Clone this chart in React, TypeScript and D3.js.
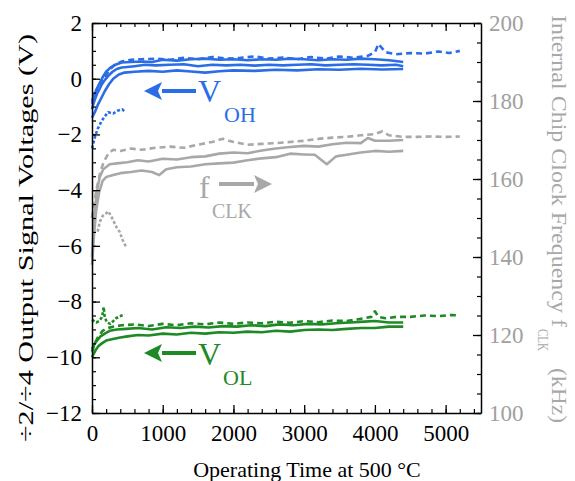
import React, { useRef, useEffect } from 'react';
import * as d3 from 'd3';

// V_OH traces (time in h, volts)
const vohA = [[0,-1.1],[20,-0.9],[40,-0.75],[70,-0.55],[100,-0.4],[140,-0.2],[180,-0.05],[230,0.1],[290,0.25],[350,0.35],[420,0.4],[500,0.42],[600,0.45],[750,0.5],[900,0.48],[1100,0.5],[1300,0.52],[1500,0.45],[1700,0.5],[1900,0.48],[2100,0.5],[2300,0.47],[2500,0.5],[2700,0.48],[2900,0.5],[3100,0.52],[3300,0.48],[3500,0.5],[3700,0.52],[3900,0.5],[4100,0.48],[4300,0.5],[4400,0.45]];
const vohB = [[0,-0.8],[30,-0.6],[60,-0.4],[100,-0.2],[150,0.05],[200,0.25],[260,0.4],[330,0.5],[420,0.58],[550,0.6],[700,0.62],[850,0.6],[1000,0.68],[1200,0.65],[1400,0.7],[1600,0.72],[1800,0.68],[2000,0.7],[2200,0.66],[2400,0.7],[2600,0.68],[2800,0.72],[3000,0.7],[3200,0.66],[3400,0.7],[3600,0.68],[3800,0.72],[4000,0.7],[4200,0.66],[4400,0.6]];
const vohC = [[0,-1.4],[40,-1.2],[80,-0.95],[130,-0.7],[180,-0.45],[240,-0.2],[300,0.0],[380,0.15],[460,0.22],[600,0.25],[800,0.28],[1000,0.25],[1200,0.3],[1400,0.26],[1600,0.22],[1800,0.27],[2000,0.3],[2300,0.28],[2600,0.32],[2900,0.3],[3200,0.34],[3500,0.32],[3800,0.36],[4100,0.33],[4400,0.35]];
const vohD = [[0,-0.9],[50,-0.6],[100,-0.3],[170,0.0],[240,0.3],[320,0.5],[420,0.62],[550,0.68],[700,0.7],[900,0.72],[1100,0.68],[1300,0.75],[1500,0.7],[1700,0.78],[1900,0.72],[2100,0.75],[2300,0.8],[2500,0.72],[2700,0.76],[2900,0.7],[3100,0.78],[3300,0.72],[3500,0.8],[3700,0.75],[3900,0.82],[4000,0.95],[4050,1.25],[4100,1.1],[4150,0.95],[4300,0.88],[4500,0.92],[4700,0.9],[4900,0.98],[5050,0.92],[5200,1.0]];
const vohE = [[0,-2.5],[40,-2.1],[80,-1.8],[130,-1.55],[180,-1.35],[230,-1.2],[300,-1.25],[360,-1.15],[430,-1.1],[470,-1.2]];

// f_CLK traces (time in h, kHz)
const fclkA = [[0,150],[60,157],[120,162],[170,164.5],[230,166.5],[300,167.5],[400,167.2],[550,167.8],[700,167.5],[900,168],[1100,168.3],[1300,168],[1500,168.8],[1700,169.5],[1850,170.3],[2000,169.5],[2200,168.8],[2400,169],[2600,169.2],[2800,169.5],[3000,169.8],[3200,170.3],[3400,170.6],[3600,170.8],[3800,171.2],[4000,171.5],[4100,172.2],[4200,171.2],[4400,170.8],[4600,170.8],[4800,170.9],[5000,170.8],[5200,170.9]];
const fclkB = [[0,140],[20,146],[40,152],[70,157],[110,160.5],[160,162.5],[250,163.8],[350,164],[500,164.3],[650,164.8],[800,164.5],[1000,165.2],[1200,165],[1400,165.6],[1600,165.8],[1800,166.5],[2000,166.8],[2200,166.6],[2400,167.3],[2600,167.8],[2800,168.2],[3000,168.5],[3200,168.3],[3400,168.9],[3600,169.3],[3800,169.2],[3900,170.5],[4000,169.8],[4200,169.8],[4400,170]];
const fclkC = [[0,138],[30,146],[60,152],[100,156.5],[150,159.5],[200,160.5],[300,161],[400,161.5],[550,161.8],[700,162.2],[850,161.8],[950,161],[1050,162.5],[1200,163],[1400,163.2],[1600,163.8],[1800,164],[2000,164.2],[2200,164.8],[2400,165.3],[2600,165.6],[2800,166.5],[3000,166.3],[3150,166.2],[3320,163.8],[3450,165.8],[3600,166.2],[3800,166.8],[4000,167.2],[4200,167],[4400,167.2]];
const fclkD = [[80,146.5],[110,149],[150,150.5],[190,151],[230,151.7],[270,150.5],[310,149],[350,147.5],[390,146.5],[430,144.5],[470,143],[490,142.5]];

// V_OL traces (time in h, volts)
const volA = [[0,-10.0],[20,-9.9],[50,-9.75],[90,-9.6],[140,-9.5],[200,-9.4],[280,-9.35],[380,-9.3],[500,-9.25],[650,-9.2],[800,-9.22],[1000,-9.15],[1200,-9.18],[1400,-9.12],[1600,-9.15],[1800,-9.1],[2000,-9.12],[2200,-9.08],[2400,-9.1],[2600,-9.05],[2800,-9.08],[3000,-9.02],[3200,-9.0],[3400,-9.02],[3600,-8.98],[3800,-8.95],[4000,-8.95],[4200,-8.9],[4400,-8.9]];
const volB = [[0,-9.7],[30,-9.55],[70,-9.4],[120,-9.25],[180,-9.15],[250,-9.05],[350,-9.0],[480,-8.98],[650,-8.95],[850,-9.0],[1050,-8.92],[1250,-8.95],[1450,-8.9],[1650,-8.93],[1850,-8.88],[2050,-8.9],[2250,-8.85],[2450,-8.88],[2650,-8.82],[2850,-8.85],[3050,-8.8],[3250,-8.82],[3450,-8.78],[3650,-8.75],[3850,-8.72],[4000,-8.7],[4200,-8.75],[4400,-8.75]];
const volC = [[0,-9.8],[40,-9.5],[90,-9.25],[150,-9.05],[220,-8.95],[300,-8.9],[420,-8.85],[600,-8.82],[800,-8.88],[1000,-8.8],[1200,-8.85],[1400,-8.78],[1600,-8.82],[1800,-8.75],[2000,-8.8],[2200,-8.75],[2400,-8.78],[2600,-8.72],[2800,-8.76],[3000,-8.7],[3200,-8.74],[3400,-8.68],[3600,-8.7],[3800,-8.62],[3950,-8.55],[4000,-8.35],[4050,-8.55],[4150,-8.6],[4300,-8.55],[4500,-8.55],[4700,-8.5],[4900,-8.52],[5100,-8.48],[5200,-8.5]];
const volD = [[0,-8.65],[30,-8.7],[60,-8.75],[100,-8.7],[130,-8.6],[150,-8.45],[165,-8.2],[180,-8.55],[210,-8.75],[260,-8.8],[300,-8.7],[340,-8.6],[380,-8.55],[420,-8.5],[460,-8.45]];

const xTicks = [0, 1000, 2000, 3000, 4000, 5000];
const yTicks = [-12, -10, -8, -6, -4, -2, 0, 2];
const yRTicks = [100, 120, 140, 160, 180, 200];

const W = 575, H = 481;
const margin = { top: 23, right: 94, bottom: 68, left: 92 };
const FONT = 'Liberation Serif';
const BLUE = '#2b6de6';
const GRAY = '#a8a8a8';
const GREEN = '#1d8a25';

const x = d3.scaleLinear().domain([0, 5500]).range([margin.left, W - margin.right]);
const y = d3.scaleLinear().domain([-12, 2]).range([H - margin.bottom, margin.top]);
const yR = d3.scaleLinear().domain([100, 200]).range([H - margin.bottom, margin.top]);

const lineL = d3.line().x(d => x(d[0])).y(d => y(d[1]));
const lineR = d3.line().x(d => x(d[0])).y(d => yR(d[1]));

const Arrow = ({ x1, x2, yy, color }) => {
    // shaft from x1 to x2, head at x2
    const dir = x2 > x1 ? 1 : -1;
    const back = x2 - dir * 18;
    return (
        <g>
            <line x1={x1} x2={back} y1={yy} y2={yy} stroke={color} strokeWidth={4} />
            <polygon points={`${x2},${yy} ${back},${yy - 9} ${back + dir * 4},${yy} ${back},${yy + 9}`} fill={color} />
        </g>
    );
};

export default function App() {
    const gRef = useRef();

    useEffect(() => {
        const g = d3.select(gRef.current);
        g.selectAll('*').remove();
        const bottom = H - margin.bottom;
        const right = W - margin.right;

        const style = (sel, color) => {
            sel.attr('font-family', FONT).attr('font-size', 23);
            sel.selectAll('path.domain').attr('stroke', '#000').attr('stroke-width', 1.5);
            sel.selectAll('.tick line').attr('stroke', '#000').attr('stroke-width', 1.3);
            sel.selectAll('text').style('font-family', FONT).attr('font-size', 23).attr('fill', color);
        };
        const minor = (axis, t) => g.append('g').attr('transform', t)
            .call(axis.tickSize(-4).tickFormat(''))
            .call(s => s.select('.domain').remove())
            .call(s => s.selectAll('.tick line').attr('stroke', '#000').attr('stroke-width', 1.2));

        // minor ticks
        minor(d3.axisBottom(x).tickValues(d3.range(0, 5501, 200)), `translate(0,${bottom})`);
        minor(d3.axisTop(x).tickValues(d3.range(0, 5501, 200)), `translate(0,${margin.top})`);
        minor(d3.axisLeft(y).tickValues(d3.range(-12, 2.01, 0.5)), `translate(${margin.left},0)`);
        minor(d3.axisRight(yR).tickValues(d3.range(100, 201, 5)), `translate(${right},0)`);

        // major axes
        g.append('g').attr('transform', `translate(0,${bottom})`)
            .call(d3.axisBottom(x).tickValues(xTicks).tickFormat(d3.format('d')).tickSize(-8).tickSizeOuter(0).tickPadding(12))
            .call(s => style(s, '#000'));
        g.append('g').attr('transform', `translate(0,${margin.top})`)
            .call(d3.axisTop(x).tickValues(xTicks).tickSize(-8).tickSizeOuter(0).tickFormat(''))
            .call(s => style(s, '#000'));
        g.append('g').attr('transform', `translate(${margin.left},0)`)
            .call(d3.axisLeft(y).tickValues(yTicks).tickFormat(d3.format('d')).tickSize(-8).tickSizeOuter(0).tickPadding(10))
            .call(s => style(s, '#000'));
        g.append('g').attr('transform', `translate(${right},0)`)
            .call(d3.axisRight(yR).tickValues(yRTicks).tickSize(-8).tickSizeOuter(0).tickPadding(8))
            .call(s => style(s, '#a0a0a0'));
    }, []);

    const common = { fill: 'none', strokeWidth: 2.6, strokeLinejoin: 'round' };
    const ts = { fontFamily: FONT };

    return (
        <svg width={W} height={H} style={{ position: 'absolute', left: 0, top: 0, background: '#fff' }}>
            {/* f_CLK */}
            <path d={lineR(fclkA)} stroke={GRAY} strokeDasharray="6,4" {...common} />
            <path d={lineR(fclkB)} stroke={GRAY} {...common} />
            <path d={lineR(fclkC)} stroke={GRAY} {...common} />
            <path d={lineR(fclkD)} stroke={GRAY} strokeDasharray="3,2" {...common} />
            {/* V_OH */}
            <path d={lineL(vohA)} stroke={BLUE} {...common} />
            <path d={lineL(vohB)} stroke={BLUE} {...common} />
            <path d={lineL(vohC)} stroke={BLUE} {...common} />
            <path d={lineL(vohD)} stroke={BLUE} strokeDasharray="6,4" {...common} />
            <path d={lineL(vohE)} stroke={BLUE} strokeDasharray="3,2" {...common} />
            {/* V_OL */}
            <path d={lineL(volA)} stroke={GREEN} {...common} />
            <path d={lineL(volB)} stroke={GREEN} {...common} />
            <path d={lineL(volC)} stroke={GREEN} strokeDasharray="6,4" {...common} />
            <path d={lineL(volD)} stroke={GREEN} strokeDasharray="3,2" {...common} />

            <g ref={gRef} />

            {/* annotations */}
            <Arrow x1={196} x2={144} yy={91} color={BLUE} />
            <text x={198} y={102} style={ts} fontSize={32} fill={BLUE}>V</text>
            <text x={224} y={122} style={ts} fontSize={22} fill={BLUE}>OH</text>

            <text x={199} y={198} style={ts} fontSize={32} fill={GRAY}>f</text>
            <Arrow x1={219} x2={272} yy={184} color={GRAY} />
            <text x={212} y={218} style={ts} fontSize={20} fill={GRAY}>CLK</text>

            <Arrow x1={196} x2={144} yy={353} color={GREEN} />
            <text x={198} y={365} style={ts} fontSize={32} fill={GREEN}>V</text>
            <text x={223} y={385} style={ts} fontSize={22} fill={GREEN}>OL</text>

            {/* axis titles */}
            <text x={307} y={477} textAnchor="middle" style={ts} fontSize={22}>Operating Time at 500 °C</text>
            <text transform="translate(33,238) rotate(-90)" textAnchor="middle" style={ts} fontSize={22}
                textLength={408} lengthAdjust="spacingAndGlyphs">÷2/÷4 Output Signal Voltages (V)</text>
            <g fill="#a8a8a8" style={ts}>
                <text transform="translate(552,15) rotate(90)" fontSize={22} textLength={312} lengthAdjust="spacingAndGlyphs">Internal Chip Clock Frequency f</text>
                <text transform="translate(538,329) rotate(90)" fontSize={14} textLength={22} lengthAdjust="spacingAndGlyphs">CLK</text>
                <text transform="translate(552,368) rotate(90)" fontSize={22} textLength={55} lengthAdjust="spacingAndGlyphs">(kHz)</text>
            </g>
        </svg>
    );
}
